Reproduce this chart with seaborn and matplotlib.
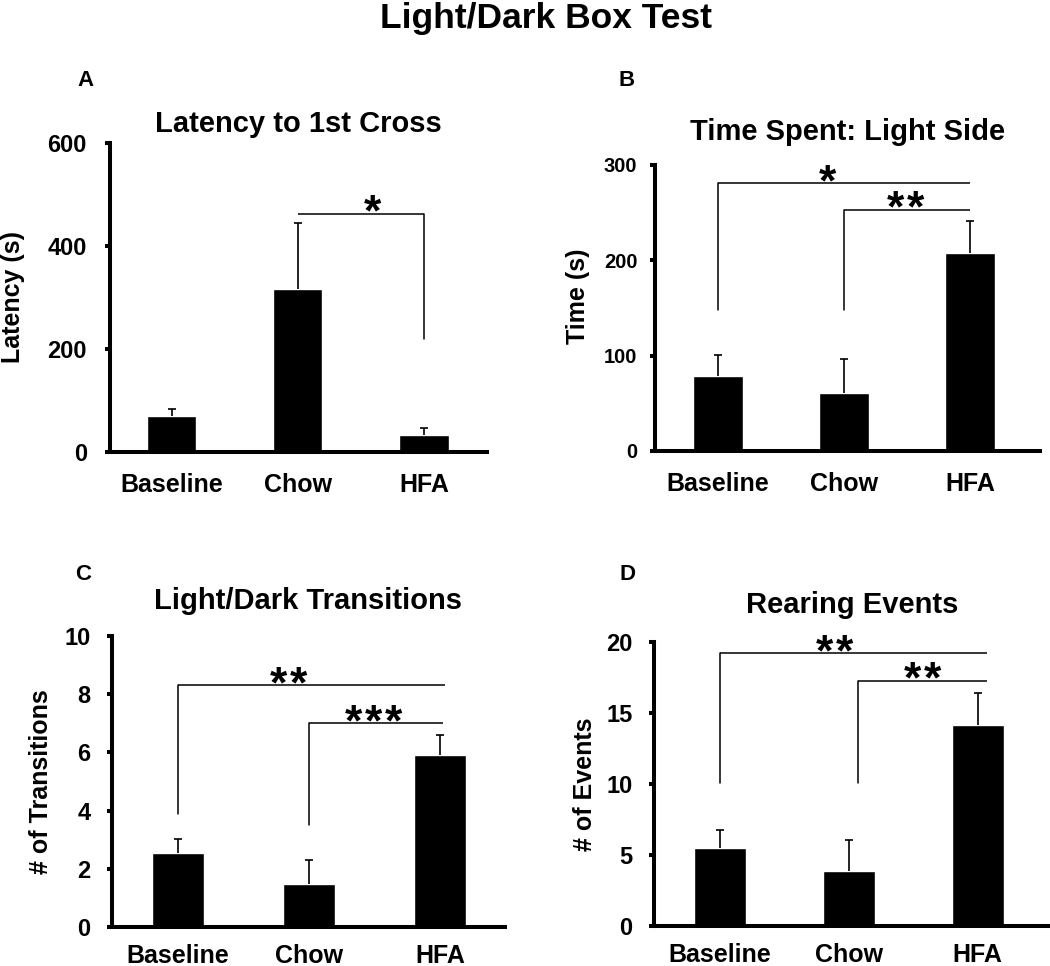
import numpy as np
import pandas as pd
import matplotlib
matplotlib.use("Agg")
import matplotlib.pyplot as plt
import seaborn as sns

# ---------------- data ----------------
groups = ["Baseline", "Chow", "HFA"]

latency_mean = [70, 316, 33]
latency_sem = [13, 128, 13]

light_time_mean = [79, 61, 208]
light_time_sem = [22, 35, 33]

transitions_mean = [2.54, 1.48, 5.91]
transitions_sem = [0.48, 0.82, 0.69]

rearing_mean = [5.5, 3.87, 14.15]
rearing_sem = [1.27, 2.2, 2.25]

# significance brackets: (x_left, x_right, y, y_drop_left, y_drop_right, x_star, label)
latency_sig = [(1, 2, 462, None, 219, 1.59, "*")]
light_time_sig = [(0, 2, 281, 148, None, 0.87, "*"),
                  (1, 2, 253, 148, None, 1.49, "**")]
transitions_sig = [(0, 2.04, 8.3, 3.88, None, 0.84, "**"),
                   (1, 2.02, 7.0, 3.5, None, 1.49, "***")]
rearing_sig = [(0, 2.07, 19.2, 10.1, None, 0.89, "**"),
               (1.07, 2.07, 17.25, 10.1, None, 1.57, "**")]

# ---------------- style ----------------
sns.set_theme(style="ticks")
plt.rcParams["font.family"] = ["Liberation Sans", "DejaVu Sans"]
plt.rcParams["font.weight"] = "bold"
plt.rcParams["axes.labelweight"] = "bold"
plt.rcParams["axes.titleweight"] = "bold"
plt.rcParams["text.color"] = "black"
plt.rcParams["axes.labelcolor"] = "black"
plt.rcParams["xtick.color"] = "black"
plt.rcParams["ytick.color"] = "black"

W, H = 1050, 966
fig = plt.figure(figsize=(W / 100, H / 100), dpi=100)


def px_axes(left, right, top, bottom):
    return fig.add_axes([left / W, 1 - bottom / H, (right - left) / W, (bottom - top) / H])


panels = [
    dict(rect=(110, 487, 143, 452), mean=latency_mean, sem=latency_sem, sig=latency_sig,
         title="Latency to 1st Cross", tpad=8, ylabel="Latency (s)", ylab_xy=(-0.226, 0.5),
         ylim=(0, 600), yticks=[0, 200, 400, 600], xlim=(-0.49, 2.5), width=0.39,
         ytick_fs=17, ytick_pad=13, xtick_pad=15, letter="A", letter_xy=(85, 80)),
    dict(rect=(655, 1040, 165, 451), mean=light_time_mean, sem=light_time_sem, sig=light_time_sig,
         title="Time Spent: Light Side", tpad=18, ylabel="Time (s)", ylab_xy=(-0.169, 0.54),
         ylim=(0, 300), yticks=[0, 100, 200, 300], xlim=(-0.5, 2.556), width=0.4,
         ytick_fs=14.5, ytick_pad=9, xtick_pad=15, letter="B", letter_xy=(627, 80)),
    dict(rect=(112, 505, 636, 927), mean=transitions_mean, sem=transitions_sem, sig=transitions_sig,
         title="Light/Dark Transitions", tpad=19.5, ylabel="# of Transitions", ylab_xy=(-0.15, 0.5),
         ylim=(0, 10), yticks=[0, 2, 4, 6, 8, 10], xlim=(-0.504, 2.496), width=0.4,
         ytick_fs=17, ytick_pad=12, xtick_pad=12, letter="C", letter_xy=(83, 575)),
    dict(rect=(654, 1050, 642, 926), mean=rearing_mean, sem=rearing_sem, sig=rearing_sig,
         title="Rearing Events", tpad=21, ylabel="# of Events", ylab_xy=(-0.144, 0.5),
         ylim=(0, 20), yticks=[0, 5, 10, 15, 20], xlim=(-0.51, 2.56), width=0.4,
         ytick_fs=17, ytick_pad=12, xtick_pad=12, letter="D", letter_xy=(627, 575)),
]

STAR_PITCH = 14.4  # points between neighbouring asterisks

for p in panels:
    ax = px_axes(*p["rect"])
    df = pd.DataFrame({"group": groups, "mean": p["mean"]})
    sns.barplot(data=df, x="group", y="mean", color="black", saturation=1,
                width=p["width"], errorbar=None, ax=ax)
    # upward-only error bars (hide the lower cap)
    eb = ax.errorbar(np.arange(len(groups)), p["mean"],
                     yerr=[np.zeros(len(groups)), p["sem"]],
                     fmt="none", ecolor="black", elinewidth=1.2, capsize=3, capthick=1.2)
    eb[1][0].set_visible(False)

    ax.set_xlim(*p["xlim"])
    ax.set_ylim(*p["ylim"])
    ax.set_yticks(p["yticks"])
    ax.set_xlabel("")
    ax.set_ylabel(p["ylabel"], fontsize=18, fontweight="bold")
    ax.yaxis.set_label_coords(*p["ylab_xy"])
    ax.set_title(p["title"], fontsize=21, fontweight="bold", pad=p["tpad"])

    sns.despine(ax=ax)
    for side in ["left", "bottom"]:
        ax.spines[side].set_linewidth(2.9)
        ax.spines[side].set_color("black")
    ax.tick_params(axis="y", direction="out", length=3.6, width=2.9, color="black",
                   labelsize=p["ytick_fs"], pad=p["ytick_pad"])
    ax.tick_params(axis="x", length=0, labelsize=18, pad=p["xtick_pad"])
    for lab in ax.get_xticklabels() + ax.get_yticklabels():
        lab.set_fontweight("bold")
        lab.set_color("black")

    # significance brackets
    for x1, x2, y, dl, dr, xs, lab in p["sig"]:
        ax.plot([x1, x2], [y, y], color="black", lw=1.1, solid_capstyle="butt")
        if dl is not None:
            ax.plot([x1, x1], [y, dl], color="black", lw=1.1)
        if dr is not None:
            ax.plot([x2, x2], [y, dr], color="black", lw=1.1)
        n = len(lab)
        for i in range(n):
            dx = (i - (n - 1) / 2) * STAR_PITCH
            ax.annotate("*", xy=(xs, y), xytext=(dx, -8.5), textcoords="offset points",
                        ha="center", va="baseline", fontsize=32, fontweight="bold")

    fig.text(p["letter_xy"][0] / W, 1 - p["letter_xy"][1] / H, p["letter"],
             ha="center", va="center", fontsize=16, fontweight="bold")

fig.text(546 / W, 1 - 28 / H, "Light/Dark Box Test", ha="center", va="baseline",
         fontsize=25.5, fontweight="bold")

fig.savefig("out.png", dpi=100)
